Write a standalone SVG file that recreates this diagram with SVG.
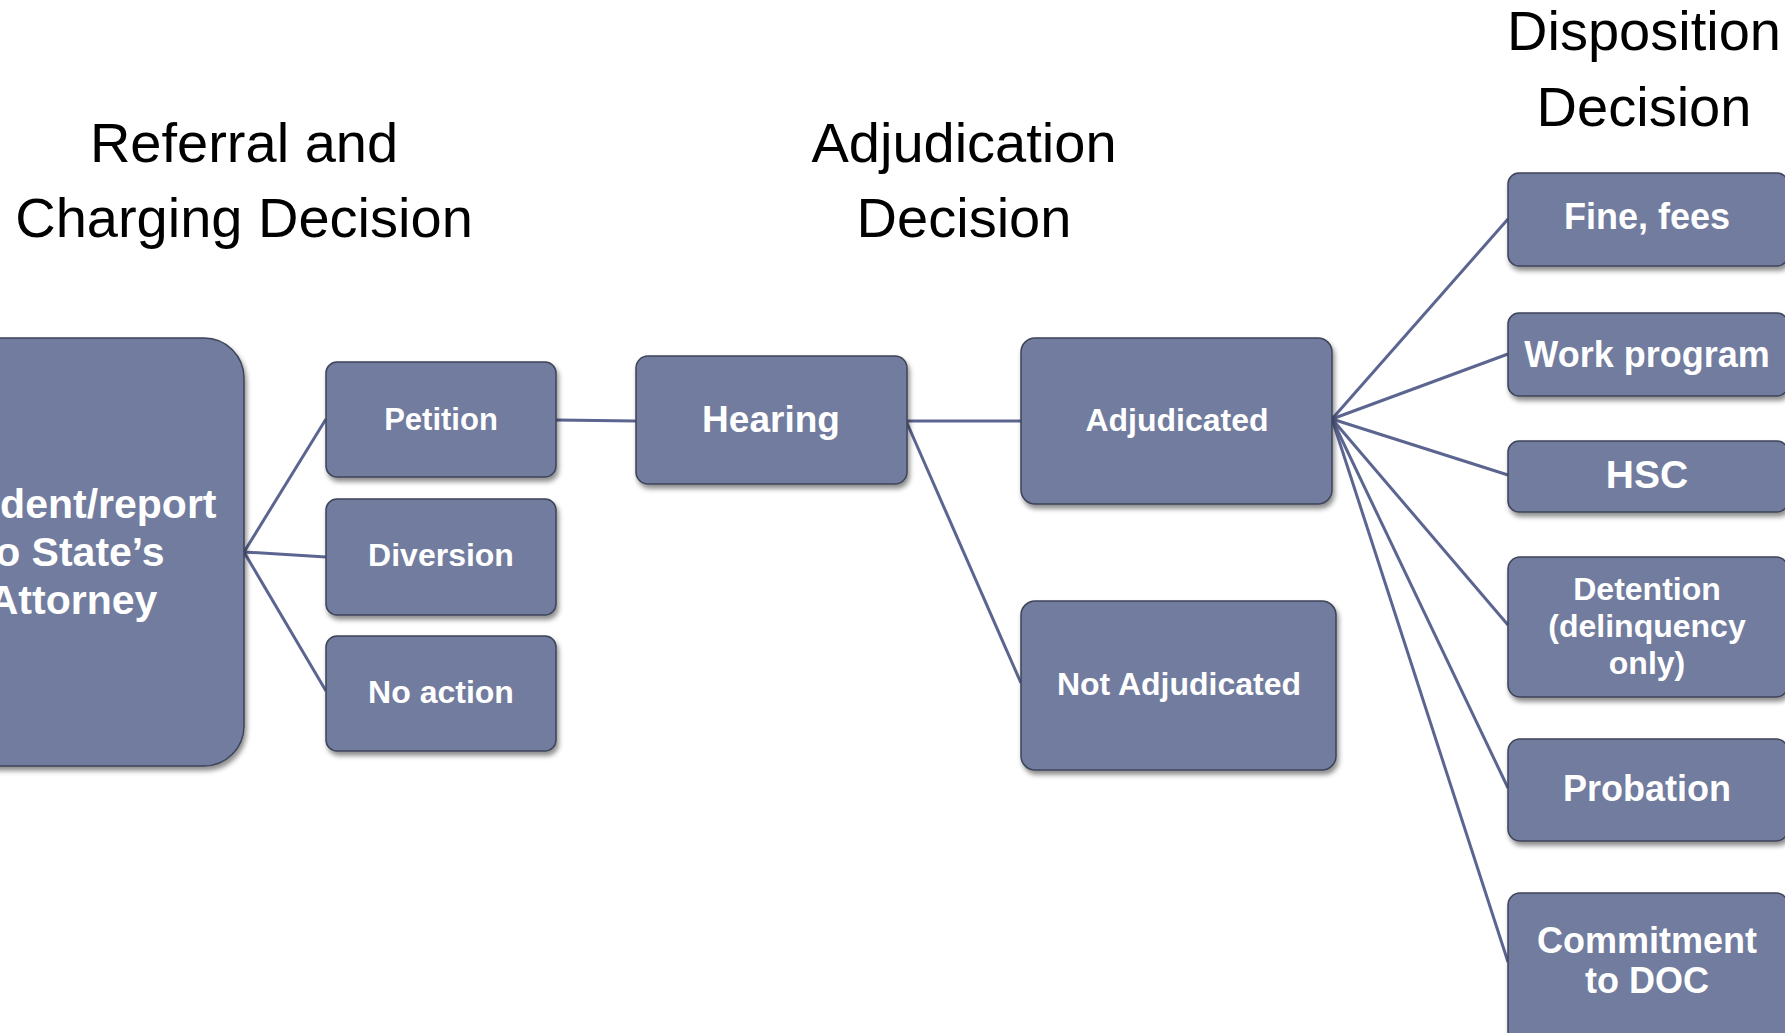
<svg xmlns="http://www.w3.org/2000/svg" width="1785" height="1033" viewBox="0 0 1785 1033">
<style>
.box{fill:#717B9E;stroke:#3E4459;stroke-width:1.5;filter:url(#sh)}
.t{font-family:"Liberation Sans",Arial,sans-serif;font-weight:bold;fill:#FFFFFF;text-anchor:middle}
.h{font-family:"Liberation Sans",Arial,sans-serif;font-size:56px;fill:#000;text-anchor:middle}
.c{stroke:#5B6590;stroke-width:3;fill:none}
</style>
<defs>
<filter id="sh" x="-10%" y="-10%" width="130%" height="130%">
<feDropShadow dx="2" dy="4" stdDeviation="2.5" flood-color="#000" flood-opacity="0.45"/>
</filter>
</defs>
<rect width="1785" height="1033" fill="#FFFFFF"/>
<g id="headers">
<text class="h" x="244" y="162">Referral and</text>
<text class="h" x="244" y="237">Charging Decision</text>
<text class="h" x="964" y="162">Adjudication</text>
<text class="h" x="964" y="237">Decision</text>
<text class="h" x="1644" y="50" font-size="54">Disposition</text>
<text class="h" x="1644" y="126" font-size="54">Decision</text>
</g>
<g id="connectors">
<line class="c" x1="244" y1="552" x2="326" y2="419"/>
<line class="c" x1="244" y1="552" x2="326" y2="557"/>
<line class="c" x1="244" y1="552" x2="326" y2="691"/>
<line class="c" x1="556" y1="420" x2="636" y2="421"/>
<line class="c" x1="907" y1="421" x2="1021" y2="421"/>
<line class="c" x1="907" y1="423" x2="1021" y2="683"/>
<line class="c" x1="1332" y1="419" x2="1508" y2="219"/>
<line class="c" x1="1332" y1="419" x2="1508" y2="354"/>
<line class="c" x1="1332" y1="419" x2="1508" y2="475"/>
<line class="c" x1="1332" y1="419" x2="1508" y2="625"/>
<line class="c" x1="1332" y1="419" x2="1508" y2="788"/>
<line class="c" x1="1332" y1="419" x2="1508" y2="962"/>
</g>
<g id="incident">
<rect class="box" x="-100" y="338" width="344" height="428" rx="40"/>
<text class="t" font-size="41" x="73" y="518">Incident/report</text>
<text class="t" font-size="41" x="73" y="566">to State’s</text>
<text class="t" font-size="41" x="73" y="614">Attorney</text>
</g>
<g id="petition">
<rect class="box" x="326" y="362" width="230" height="115" rx="11"/>
<text class="t" font-size="31" x="441" y="430">Petition</text>
</g>
<g id="diversion">
<rect class="box" x="326" y="499" width="230" height="116" rx="11"/>
<text class="t" font-size="32" x="441" y="566">Diversion</text>
</g>
<g id="noaction">
<rect class="box" x="326" y="636" width="230" height="115" rx="11"/>
<text class="t" font-size="32" x="441" y="703">No action</text>
</g>
<g id="hearing">
<rect class="box" x="636" y="356" width="271" height="128" rx="12"/>
<text class="t" font-size="37" x="771" y="432">Hearing</text>
</g>
<g id="adjudicated">
<rect class="box" x="1021" y="338" width="311" height="166" rx="14"/>
<text class="t" font-size="32" x="1177" y="431">Adjudicated</text>
</g>
<g id="notadjudicated">
<rect class="box" x="1021" y="601" width="315" height="169" rx="14"/>
<text class="t" font-size="32" x="1179" y="695">Not Adjudicated</text>
</g>
<g id="fine">
<rect class="box" x="1508" y="173" width="280" height="93" rx="11"/>
<text class="t" font-size="36" x="1647" y="229">Fine, fees</text>
</g>
<g id="work">
<rect class="box" x="1508" y="313" width="280" height="83" rx="11"/>
<text class="t" font-size="36" x="1647" y="367">Work program</text>
</g>
<g id="hsc">
<rect class="box" x="1508" y="441" width="280" height="71" rx="11"/>
<text class="t" font-size="39" x="1647" y="488">HSC</text>
</g>
<g id="detention">
<rect class="box" x="1508" y="557" width="280" height="140" rx="12"/>
<text class="t" font-size="32" x="1647" y="600">Detention</text>
<text class="t" font-size="32" x="1647" y="637">(delinquency</text>
<text class="t" font-size="32" x="1647" y="674">only)</text>
</g>
<g id="probation">
<rect class="box" x="1508" y="739" width="280" height="102" rx="12"/>
<text class="t" font-size="36" x="1647" y="801">Probation</text>
</g>
<g id="commitment">
<rect class="box" x="1508" y="893" width="280" height="150" rx="12"/>
<text class="t" font-size="36" x="1647" y="953">Commitment</text>
<text class="t" font-size="36" x="1647" y="993">to DOC</text>
</g>
</svg>
